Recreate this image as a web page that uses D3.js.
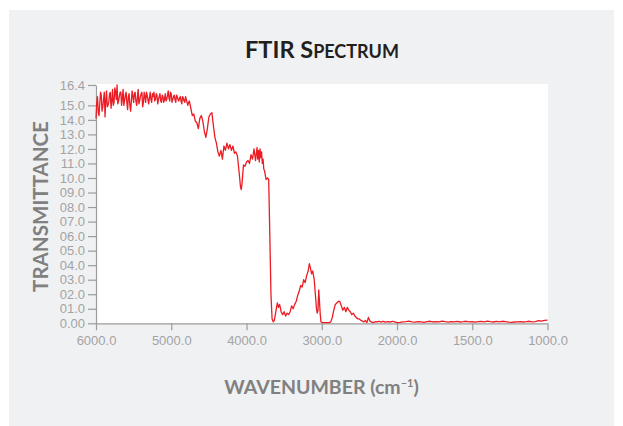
<!DOCTYPE html>
<html>
<head>
<meta charset="utf-8">
<script src="https://cdn.jsdelivr.net/npm/d3@7"></script>
<style>
  html, body { margin: 0; padding: 0; background: #ffffff; }
  svg { display: block; }
</style>
</head>
<body>
<svg id="chart" width="623" height="426"></svg>
<script>
// ---- data ----
const wavenumbers = [
  6000,5980,5960,5940,5920,5900,5880,5860,5840,5820,5800,5780,5760,5740,5720,5700,5680,5660,5640,5620,
  5600,5580,5560,5540,5520,5500,5480,5460,5440,5420,5400,5380,5360,5340,5320,5300,5280,5260,5240,5220,
  5200,5180,5160,5140,5120,5100,5080,5060,5040,5020,5000,4980,4960,4940,4920,4900,4880,4860,4840,4820,
  4800,4780,4760,4740,4720,4700,4680,4660,4640,4620,4600,4580,4560,4540,4520,4500,4480,4460,4440,4420,
  4400,4380,4360,4340,4320,4300,4280,4260,4240,4220,4200,4180,4160,4140,4120,4100,4080,4070,4060,4040,
  4020,4000,3980,3960,3940,3920,3900,3880,3860,3850,3840,3830,3820,3810,3800,3790,3780,3770,3760,3750,
  3740,3720,3705,3690,3675,3660,3645,3630,3610,3590,3575,3560,3540,3520,3500,3480,3460,3440,3420,3400,
  3380,3360,3340,3320,3300,3280,3260,3240,3220,3200,3180,3165,3150,3135,3120,3100,3085,3070,3060,3050,
  3040,3030,3020,3010,2990,2960,2930,2900,2880,2860,2840,2820,2800,2780,2760,2740,2720,2700,2680,2660,
  2640,2620,2600,2580,2560,2540,2520,2500,2480,2460,2440,2420,2400,2380,2360,2340,2320,
  2300,2280,2260,2240,2220,2200,2180,2160,2140,2120,2100,2080,2060,2040,2020,2000,1980,1960,1940,1920,
  1900,1880,1860,1840,1820,1800,1780,1760,1740,1720,1700,1680,1660,1640,1620,1600,1580,1560,1540,1520,
  1500,1480,1460,1440,1420,1400,1380,1360,1340,1320,1300,1280,1260,1240,1220,1200,1180,1160,1140,1120,
  1100,1080,1060,1040,1020,1000
];
const transmittance = [
  14.1,15.6,14.3,15.9,14.6,15.4,14.2,16.0,15.0,15.8,14.8,16.1,15.2,15.9,16.4,15.3,15.9,15.0,16.1,15.3,
  15.9,14.7,15.8,14.6,16.0,15.2,15.9,15.0,16.1,15.3,15.8,14.9,15.9,15.2,15.7,15.1,15.9,15.2,15.6,15.3,
  15.8,15.1,15.6,15.3,15.7,15.2,15.8,15.4,16.0,15.3,15.8,15.4,15.7,15.2,15.6,15.3,15.6,15.1,15.5,15.2,
  15.4,15.0,15.3,14.8,14.3,14.4,13.9,13.8,13.4,14.1,14.3,13.9,13.2,12.8,13.4,14.2,14.4,14.5,13.6,12.8,
  12.4,11.8,11.5,11.9,11.3,12.2,11.9,12.4,12.0,12.3,11.9,12.2,11.7,11.8,11.5,10.5,9.4,9.2,9.6,10.9,
  10.8,11.1,11.2,11.0,11.6,11.3,12.0,11.2,12.1,11.3,11.9,11.1,12.0,11.4,11.8,11.0,11.3,10.6,10.5,10.2,
  9.9,10.0,9.9,6.0,2.0,0.3,0.1,0.2,0.8,1.4,1.1,1.3,0.8,0.6,0.8,0.5,0.7,0.6,0.8,1.2,
  1.0,1.3,1.5,1.9,2.2,2.6,2.5,3.0,2.8,3.3,3.6,4.1,3.8,3.4,3.6,3.0,2.0,1.0,0.7,0.9,
  2.3,1.5,0.6,0.1,0.05,0.05,0.05,0.05,0.1,0.4,0.9,1.3,1.4,1.5,1.5,1.2,0.9,1.1,0.8,1.1,
  0.9,0.8,0.6,0.7,0.5,0.4,0.3,0.3,0.2,0.15,0.1,0.2,0.05,0.4,0.15,0.1,0.05,
  0.08,0.12,0.1,0.14,0.09,0.11,0.13,0.08,0.1,0.12,0.09,0.1,0.14,0.11,0.08,0.05,0.07,0.1,0.12,0.15,
  0.1,0.08,0.12,0.1,0.07,0.11,0.14,0.09,0.12,0.1,0.15,0.11,0.08,0.12,0.1,0.13,0.09,0.11,0.14,0.1,
  0.12,0.08,0.11,0.13,0.1,0.15,0.11,0.09,0.13,0.1,0.14,0.11,0.08,0.07,0.09,0.1,0.12,0.09,0.11,0.14,
  0.1,0.12,0.18,0.15,0.2,0.22
];
// extra readings in the noisy high-wavenumber band (between the points above)
const noisyWavenumbers = [
  5990,5970,5950,5930,5910,5890,5870,5850,5830,5810,5790,5770,5750,5730,5710,5690,5670,5650,5630,5610,
  5590,5570,5550,5530,5510,5490,5470,5450,5430,5410,5390,5370,5350,5330,5310,5290,5270,5250,5230,5210,
  5190,5170,5150,5130,5110,5090,5070,5050,5030,5010,4990,4970,4950,4930,4910,4890,4870,4850,4830,4810,
  4790,4770
];
const noisyTransmittance = [
  15.2,14.5,15.1,15.7,14.9,15.9,15.3,14.9,15.2,15.9,15.3,15.0,16.2,15.4,15.1,15.6,15.9,15.5,15.0,15.7,
  15.2,15.6,15.0,15.3,15.6,15.8,15.3,15.5,15.1,15.6,15.9,15.2,15.6,15.9,15.4,15.5,15.4,15.8,15.9,15.4,
  15.7,15.4,15.8,15.2,15.6,15.4,15.3,15.7,15.5,15.9,15.2,15.6,15.4,15.7,15.4,15.5,15.3,15.6,15.3,15.6,
  15.2,15.2
];
const xTickValues = [6000, 5000, 4000, 3000, 2000, 1500, 1000];
const xTickLabels = ["6000.0","5000.0","4000.0","3000.0","2000.0","1500.0","1000.0"];
const yTickValues = [0,1,2,3,4,5,6,7,8,9,10,11,12,13,14,15,16.4];
const yTickLabels = ["0.00","01.0","02.0","03.0","04.0","05.0","06.0","07.0","08.0","09.0",
                     "10.0","11.0","12.0","13.0","14.0","15.0","16.4"];

// ---- layout ----
const svg = d3.select("#chart");
const plot = { left: 96, right: 548, top: 84, bottom: 323.3 };

svg.append("rect").attr("x", 9).attr("y", 10).attr("width", 605).attr("height", 416)
   .attr("fill", "#f0f1f3");
svg.append("rect").attr("x", plot.left).attr("y", plot.top)
   .attr("width", plot.right - plot.left).attr("height", plot.bottom - plot.top)
   .attr("fill", "#ffffff");

// FTIR plots have a scale change at 2000 cm-1
const x = d3.scaleLinear().domain([6000, 2000, 1000]).range([96, 397, 547.5]);
const y = d3.scaleLinear().domain([0, 16.4]).range([323.3, 85]);

const axisColor = "#9c9c9c";
const labelColor = "#a3a3a3";
const tickFont = "'Liberation Sans', Arial, Helvetica, sans-serif";

// x axis
const gx = svg.append("g").attr("transform", `translate(0,${plot.bottom})`)
  .call(d3.axisBottom(x).tickValues(xTickValues)
        .tickFormat((d, i) => xTickLabels[i]).tickSize(7).tickSizeOuter(0).tickPadding(5));
// y axis
const gy = svg.append("g").attr("transform", `translate(${plot.left},0)`)
  .call(d3.axisLeft(y).tickValues(yTickValues)
        .tickFormat((d, i) => yTickLabels[i]).tickSize(8).tickSizeOuter(0).tickPadding(3));

[gx, gy].forEach(g => {
  g.select(".domain").attr("stroke", axisColor).attr("stroke-width", 1.2);
  g.selectAll(".tick line").attr("stroke", axisColor).attr("stroke-width", 1.2);
  g.selectAll(".tick text").attr("fill", labelColor)
    .style("font-family", tickFont).style("font-size", "13px");
});

// spectrum line
const pts = wavenumbers.map((w, i) => [w, transmittance[i]])
  .concat(noisyWavenumbers.map((w, i) => [w, noisyTransmittance[i]]))
  .sort((a, b) => b[0] - a[0]);
const line = d3.line().x(d => x(d[0])).y(d => y(d[1]));
svg.append("path").datum(pts)
   .attr("d", line)
   .attr("fill", "none")
   .attr("stroke", "#ec1c24")
   .attr("stroke-width", 1.3)
   .attr("stroke-linejoin", "round");

// titles
const titleFont = "Lato, 'Open Sans', sans-serif";
const t = svg.append("text").attr("x", 322).attr("y", 58)
  .attr("text-anchor", "middle")
  .style("font-family", titleFont).style("font-weight", "700")
  .attr("fill", "#231f20");
t.append("tspan").style("font-size", "23.5px").text("FTIR S");
t.append("tspan").style("font-size", "18px").text("PECTRUM");

const xt = svg.append("text").attr("x", 321.5).attr("y", 394)
  .attr("text-anchor", "middle")
  .style("font-family", titleFont).style("font-weight", "700")
  .style("font-size", "19.5px").attr("fill", "#808080");
xt.append("tspan").text("WAVENUMBER (cm");
xt.append("tspan").style("font-size", "11px").attr("dy", -7).text("–1");
xt.append("tspan").attr("dy", 7).text(")");

svg.append("text")
  .attr("transform", "translate(48,206.5) rotate(-90)")
  .attr("text-anchor", "middle")
  .style("font-family", titleFont).style("font-weight", "700")
  .style("font-size", "20.5px").attr("fill", "#808080")
  .text("TRANSMITTANCE");
</script>
</body>
</html>
